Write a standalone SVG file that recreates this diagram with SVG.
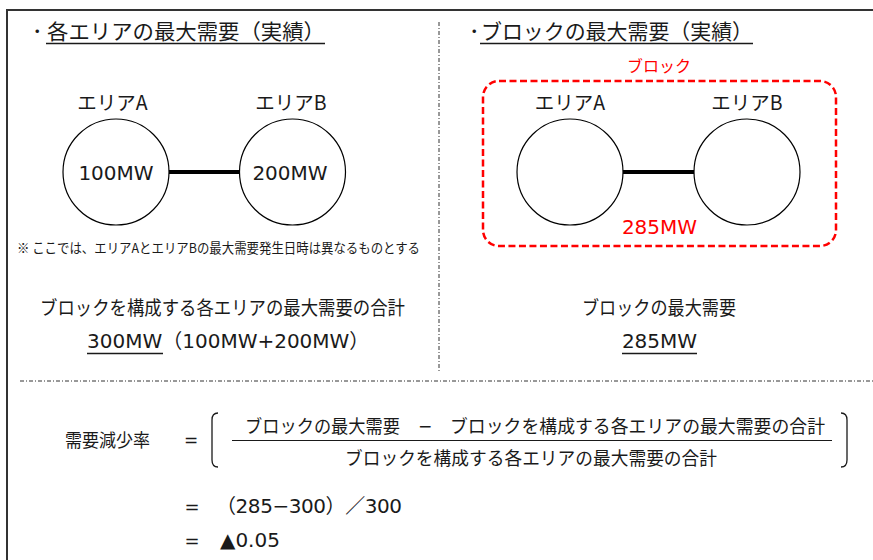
<svg xmlns="http://www.w3.org/2000/svg" width="873" height="560" viewBox="0 0 873 560">
<style>
.jp{font-family:"Noto Sans CJK JP",sans-serif;fill:#1a1a1a}
.lt{font-family:"DejaVu Sans","Noto Sans CJK JP",sans-serif;fill:#1a1a1a}
.red{fill:#ff0000}
.node{fill:#ffffff;stroke:#000;stroke-width:1.2}
.edge{stroke:#000;stroke-width:4}
.div{stroke:#333;stroke-width:1;stroke-dasharray:4 2 1 2;fill:none}
.ul{stroke:#1a1a1a;stroke-width:1.5}
</style>
<rect width="873" height="560" fill="#ffffff"/>
<g id="frame">
<path d="M7,560 L7,10 L873,10" fill="none" stroke="#333" stroke-width="2"/>
<line class="div" x1="439" y1="22" x2="439" y2="372"/>
<line class="div" x1="20" y1="381" x2="873" y2="381"/>
</g>
<g id="title-left">
<text class="jp" x="32" y="39" font-size="21">･</text>
<text class="jp" x="47" y="39" font-size="21" textLength="278" lengthAdjust="spacingAndGlyphs">各エリアの最大需要（実績）</text>
<line class="ul" x1="46" y1="43.5" x2="325" y2="43.5"/>
</g>
<g id="title-right">
<text class="jp" x="469" y="39" font-size="21">･</text>
<text class="jp" x="481" y="39" font-size="21" textLength="272" lengthAdjust="spacingAndGlyphs">ブロックの最大需要（実績）</text>
<line class="ul" x1="480" y1="43.5" x2="753" y2="43.5"/>
</g>
<g id="connectors">
<line class="edge" x1="169" y1="172" x2="239" y2="172"/>
<line class="edge" x1="623" y1="172" x2="694" y2="172"/>
</g>
<g id="areaA-left">
<text class="jp" x="112.5" y="110" font-size="19.5" text-anchor="middle">エリアA</text>
<circle class="node" cx="116" cy="172" r="53"/>
<text class="lt" x="116" y="180" font-size="20" text-anchor="middle">100MW</text>
</g>
<g id="areaB-left">
<text class="jp" x="291" y="110" font-size="19.5" text-anchor="middle">エリアB</text>
<circle class="node" cx="292.5" cy="172" r="53"/>
<text class="lt" x="290" y="180" font-size="20" text-anchor="middle">200MW</text>
</g>
<g id="block">
<rect x="483" y="81" width="353" height="165" rx="16" ry="16" fill="none" stroke="#ff0000" stroke-width="2.5" stroke-dasharray="7 3.5"/>
<text class="jp red" x="659" y="72" font-size="16" text-anchor="middle">ブロック</text>
<text class="lt red" x="659.5" y="234" font-size="20" text-anchor="middle">285MW</text>
</g>
<g id="areaA-right">
<text class="jp" x="570" y="110" font-size="19.5" text-anchor="middle">エリアA</text>
<circle class="node" cx="570" cy="172" r="53"/>
</g>
<g id="areaB-right">
<text class="jp" x="747" y="110" font-size="19.5" text-anchor="middle">エリアB</text>
<circle class="node" cx="747" cy="172" r="53"/>
</g>
<g id="note">
<text class="jp" x="17" y="253" font-size="13.5" textLength="403" lengthAdjust="spacingAndGlyphs">※ ここでは、エリアAとエリアBの最大需要発生日時は異なるものとする</text>
</g>
<g id="sum-left">
<text class="jp" x="40" y="315" font-size="19.5" textLength="365" lengthAdjust="spacingAndGlyphs">ブロックを構成する各エリアの最大需要の合計</text>
<text class="lt" x="87" y="348" font-size="20">300MW（100MW+200MW）</text>
<line class="ul" x1="87" y1="353.5" x2="163" y2="353.5"/>
</g>
<g id="sum-right">
<text class="jp" x="582" y="315" font-size="19.5" textLength="154" lengthAdjust="spacingAndGlyphs">ブロックの最大需要</text>
<text class="lt" x="659.5" y="348" font-size="20" text-anchor="middle">285MW</text>
<line class="ul" x1="622" y1="353.5" x2="697" y2="353.5"/>
</g>
<g id="formula">
<text class="jp" x="65" y="447" font-size="18.5" textLength="85" lengthAdjust="spacingAndGlyphs">需要減少率</text>
<text class="lt" x="191" y="446" font-size="17" text-anchor="middle">=</text>
<path d="M218,413 Q212,413 212,420 L212,460 Q212,467 218,467" fill="none" stroke="#1a1a1a" stroke-width="1.3"/>
<text class="jp" x="245" y="433" font-size="18.5" textLength="155" lengthAdjust="spacingAndGlyphs">ブロックの最大需要</text>
<text class="lt" x="425" y="432" font-size="17" text-anchor="middle">−</text>
<text class="jp" x="450" y="433" font-size="18.5" textLength="375" lengthAdjust="spacingAndGlyphs">ブロックを構成する各エリアの最大需要の合計</text>
<line x1="232" y1="440.5" x2="832" y2="440.5" stroke="#1a1a1a" stroke-width="1.2"/>
<text class="jp" x="531" y="465" font-size="18.5" text-anchor="middle" textLength="372" lengthAdjust="spacingAndGlyphs">ブロックを構成する各エリアの最大需要の合計</text>
<path d="M841,413 Q847,413 847,420 L847,460 Q847,467 841,467" fill="none" stroke="#1a1a1a" stroke-width="1.3"/>
<text class="lt" x="192" y="513" font-size="18" text-anchor="middle">=</text>
<text class="lt" x="216" y="513" font-size="20" textLength="186" lengthAdjust="spacing">（285−300）／300</text>
<text class="lt" x="192" y="547" font-size="18" text-anchor="middle">=</text>
<text class="lt" x="220" y="547" font-size="20">▲0.05</text>
</g>
</svg>
